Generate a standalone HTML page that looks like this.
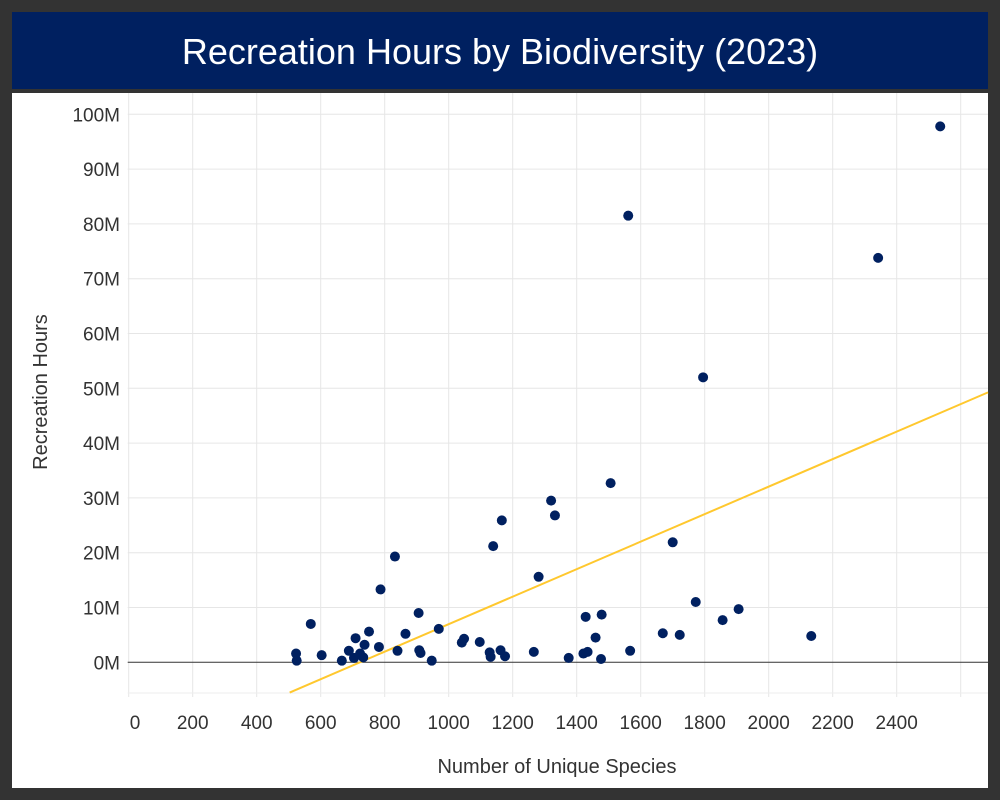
<!DOCTYPE html>
<html><head><meta charset="utf-8"><style>
body{margin:0;background:#333;}
#wrap{position:relative;width:1000px;height:800px;background:#333;overflow:hidden;font-family:"Liberation Sans",sans-serif;}
#title{position:absolute;left:12px;top:12px;width:976px;height:77px;background:#002060;color:#fff;font-size:36px;text-align:center;line-height:80px;}
#panel{position:absolute;left:12px;top:93px;width:976px;height:695px;background:#fff;}
svg{position:absolute;left:0;top:0;}
</style></head><body>
<div id="wrap">
<div id="title">Recreation Hours by Biodiversity (2023)</div>
<div id="panel"></div>
<svg id="chart" width="1000" height="800"></svg>
</div>
<script>
const speciesCounts=[523,525,569,603,666,688,709,704,723,733,737,751,782,787,840,865,906,908,912,947,969,1041,1048,1097,1128,1131,1162,1176,1266,1281,832,1166,1139,1320,1332,1506,1700,1428,1478,1459,1421,1434,1476,1375,1567,1669,1722,1772,1856,1906,1561,1795,2342,2536,2133];
const recreationHours=[1.6,0.3,7.0,1.3,0.3,2.1,4.4,0.8,1.6,0.9,3.2,5.6,2.8,13.3,2.1,5.2,9.0,2.2,1.7,0.3,6.1,3.6,4.3,3.7,1.8,1.0,2.2,1.1,1.9,15.6,19.3,25.9,21.2,29.5,26.8,32.7,21.9,8.3,8.7,4.5,1.6,1.9,0.6,0.8,2.1,5.3,5.0,11.0,7.7,9.7,81.5,52.0,73.8,97.8,4.8];
const xTicks=[0,200,400,600,800,1000,1200,1400,1600,1800,2000,2200,2400];
const xGrid=[0,200,400,600,800,1000,1200,1400,1600,1800,2000,2200,2400,2600];
const yTicks=[0,10,20,30,40,50,60,70,80,90,100];
const yTickLabels=["0M","10M","20M","30M","40M","50M","60M","70M","80M","90M","100M"];
const NS="http://www.w3.org/2000/svg";
const svg=document.getElementById('chart');
const L=127.7,R=988,T=93,B=693;
const xs=v=>128.7+0.32*v;
const ys=v=>662.3-5.48*v;
function mk(tag,attrs){const e=document.createElementNS(NS,tag);for(const k in attrs)e.setAttribute(k,attrs[k]);svg.appendChild(e);return e;}
xGrid.forEach(v=>{
  const g=mk('line',{x1:xs(v),x2:xs(v),y1:T,y2:B+4,stroke:'#e6e6e6','stroke-width':1});
  
  
});
mk('line',{x1:L,x2:R,y1:B,y2:B,stroke:'#eeeeee','stroke-width':1});
yTicks.forEach((v,i)=>{
  const g=mk('line',{x1:L,x2:R,y1:ys(v),y2:ys(v),stroke:v===0?'#333':'#e6e6e6','stroke-width':1});
  
  
  const t=mk('text',{x:120,y:ys(v)+7,'text-anchor':'end','font-size':19,fill:'#333','font-family':'Liberation Sans, sans-serif'});
  t.textContent=yTickLabels[i];
  
  
});
xTicks.forEach(v=>{
  const t=mk('text',{x:v===0?xs(v)+1:xs(v),y:729,'text-anchor':v===0?'start':'middle','font-size':19,fill:'#333','font-family':'Liberation Sans, sans-serif'});
  t.textContent=String(v);
  
  
});
const n=speciesCounts.length;
let mx=0,my=0;for(let i=0;i<n;i++){mx+=speciesCounts[i];my+=recreationHours[i];}mx/=n;my/=n;
let sxy=0,sxx=0;for(let i=0;i<n;i++){sxy+=(speciesCounts[i]-mx)*(recreationHours[i]-my);sxx+=(speciesCounts[i]-mx)**2;}
const slope=sxy/sxx,icpt=my-slope*mx;
const x0=Math.min(...speciesCounts)-20,x1=(R-128.7)/0.32;
const tl=mk('line',{x1:xs(x0),y1:ys(icpt+slope*x0),x2:xs(x1),y2:ys(icpt+slope*x1),stroke:'#ffc82e','stroke-width':2});


for(let i=0;i<n;i++){
  const c=mk('circle',{cx:xs(speciesCounts[i]),cy:ys(recreationHours[i]),r:5,fill:'#002060'});
  
  
}
const xt=mk('text',{x:557,y:773,'text-anchor':'middle','font-size':20,fill:'#333','font-family':'Liberation Sans, sans-serif'});
xt.textContent='Number of Unique Species';


const yt=mk('text',{x:47,y:392,'text-anchor':'middle','font-size':20,fill:'#333','font-family':'Liberation Sans, sans-serif',transform:'rotate(-90 47 392)'});
yt.textContent='Recreation Hours';


</script>
</body></html>
